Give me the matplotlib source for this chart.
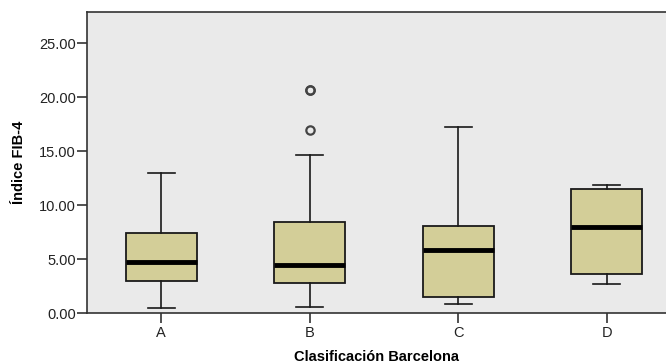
import matplotlib.pyplot as plt

plt.rcParams['font.family'] = ['Liberation Sans', 'DejaVu Sans']

# Box plot summary
groups = ["A", "B", "C", "D"]
whislo = [0.53, 0.55, 0.83, 2.71]
q1 = [2.96, 2.83, 1.48, 3.63]
med = [4.72, 4.46, 5.85, 8.00]
q3 = [7.44, 8.44, 8.13, 11.55]
whishi = [13.00, 14.69, 17.25, 11.86]
fliers = [[], [16.94, 20.67, 20.70], [], []]

stats = []
for i, g in enumerate(groups):
    stats.append(dict(label=g, whislo=whislo[i], q1=q1[i], med=med[i],
                      q3=q3[i], whishi=whishi[i], fliers=fliers[i]))

fig = plt.figure(figsize=(6.66, 3.64), dpi=100)
ax = fig.add_axes([0.1306, 0.1393, 0.8694, 0.8277])
ax.set_facecolor('#EAEAEA')

ax.bxp(stats, positions=[1, 2, 3, 4], widths=0.48, capwidths=0.18,
       patch_artist=True, showfliers=True,
       boxprops=dict(facecolor='#D3CE98', edgecolor='#1a1a1a', linewidth=1.3),
       medianprops=dict(color='black', linewidth=3.5),
       whiskerprops=dict(color='#1a1a1a', linewidth=1.2),
       capprops=dict(color='#1a1a1a', linewidth=1.2),
       flierprops=dict(marker='o', markerfacecolor='none', markeredgecolor='#444444',
                       markersize=6, markeredgewidth=1.6))

ax.set_xlim(0.5, 4.4)
ax.set_ylim(0, 27.9)
ax.set_yticks([0, 5, 10, 15, 20, 25])
ax.set_yticklabels([f"{v:.2f}" for v in [0, 5, 10, 15, 20, 25]])
ax.set_xticks([1, 2, 3, 4])
ax.set_xticklabels(groups)

for s in ['top', 'left', 'bottom']:
    ax.spines[s].set_color('#333333')
    ax.spines[s].set_linewidth(1.2)
ax.spines['right'].set_visible(False)

ax.tick_params(axis='y', direction='out', length=7, width=1.2, color='#333333',
               labelsize=10.5, labelcolor='#222222', pad=1)
ax.tick_params(axis='x', direction='out', length=7, width=1.2, color='#333333',
               labelsize=10.5, labelcolor='#222222', pad=2)

ax.set_ylabel('Índice FIB-4', fontsize=10.5, fontweight='bold', labelpad=9)
ax.set_xlabel('Clasificación Barcelona', fontsize=10.5, fontweight='bold', labelpad=7)

fig.savefig('out.png', dpi=100)
